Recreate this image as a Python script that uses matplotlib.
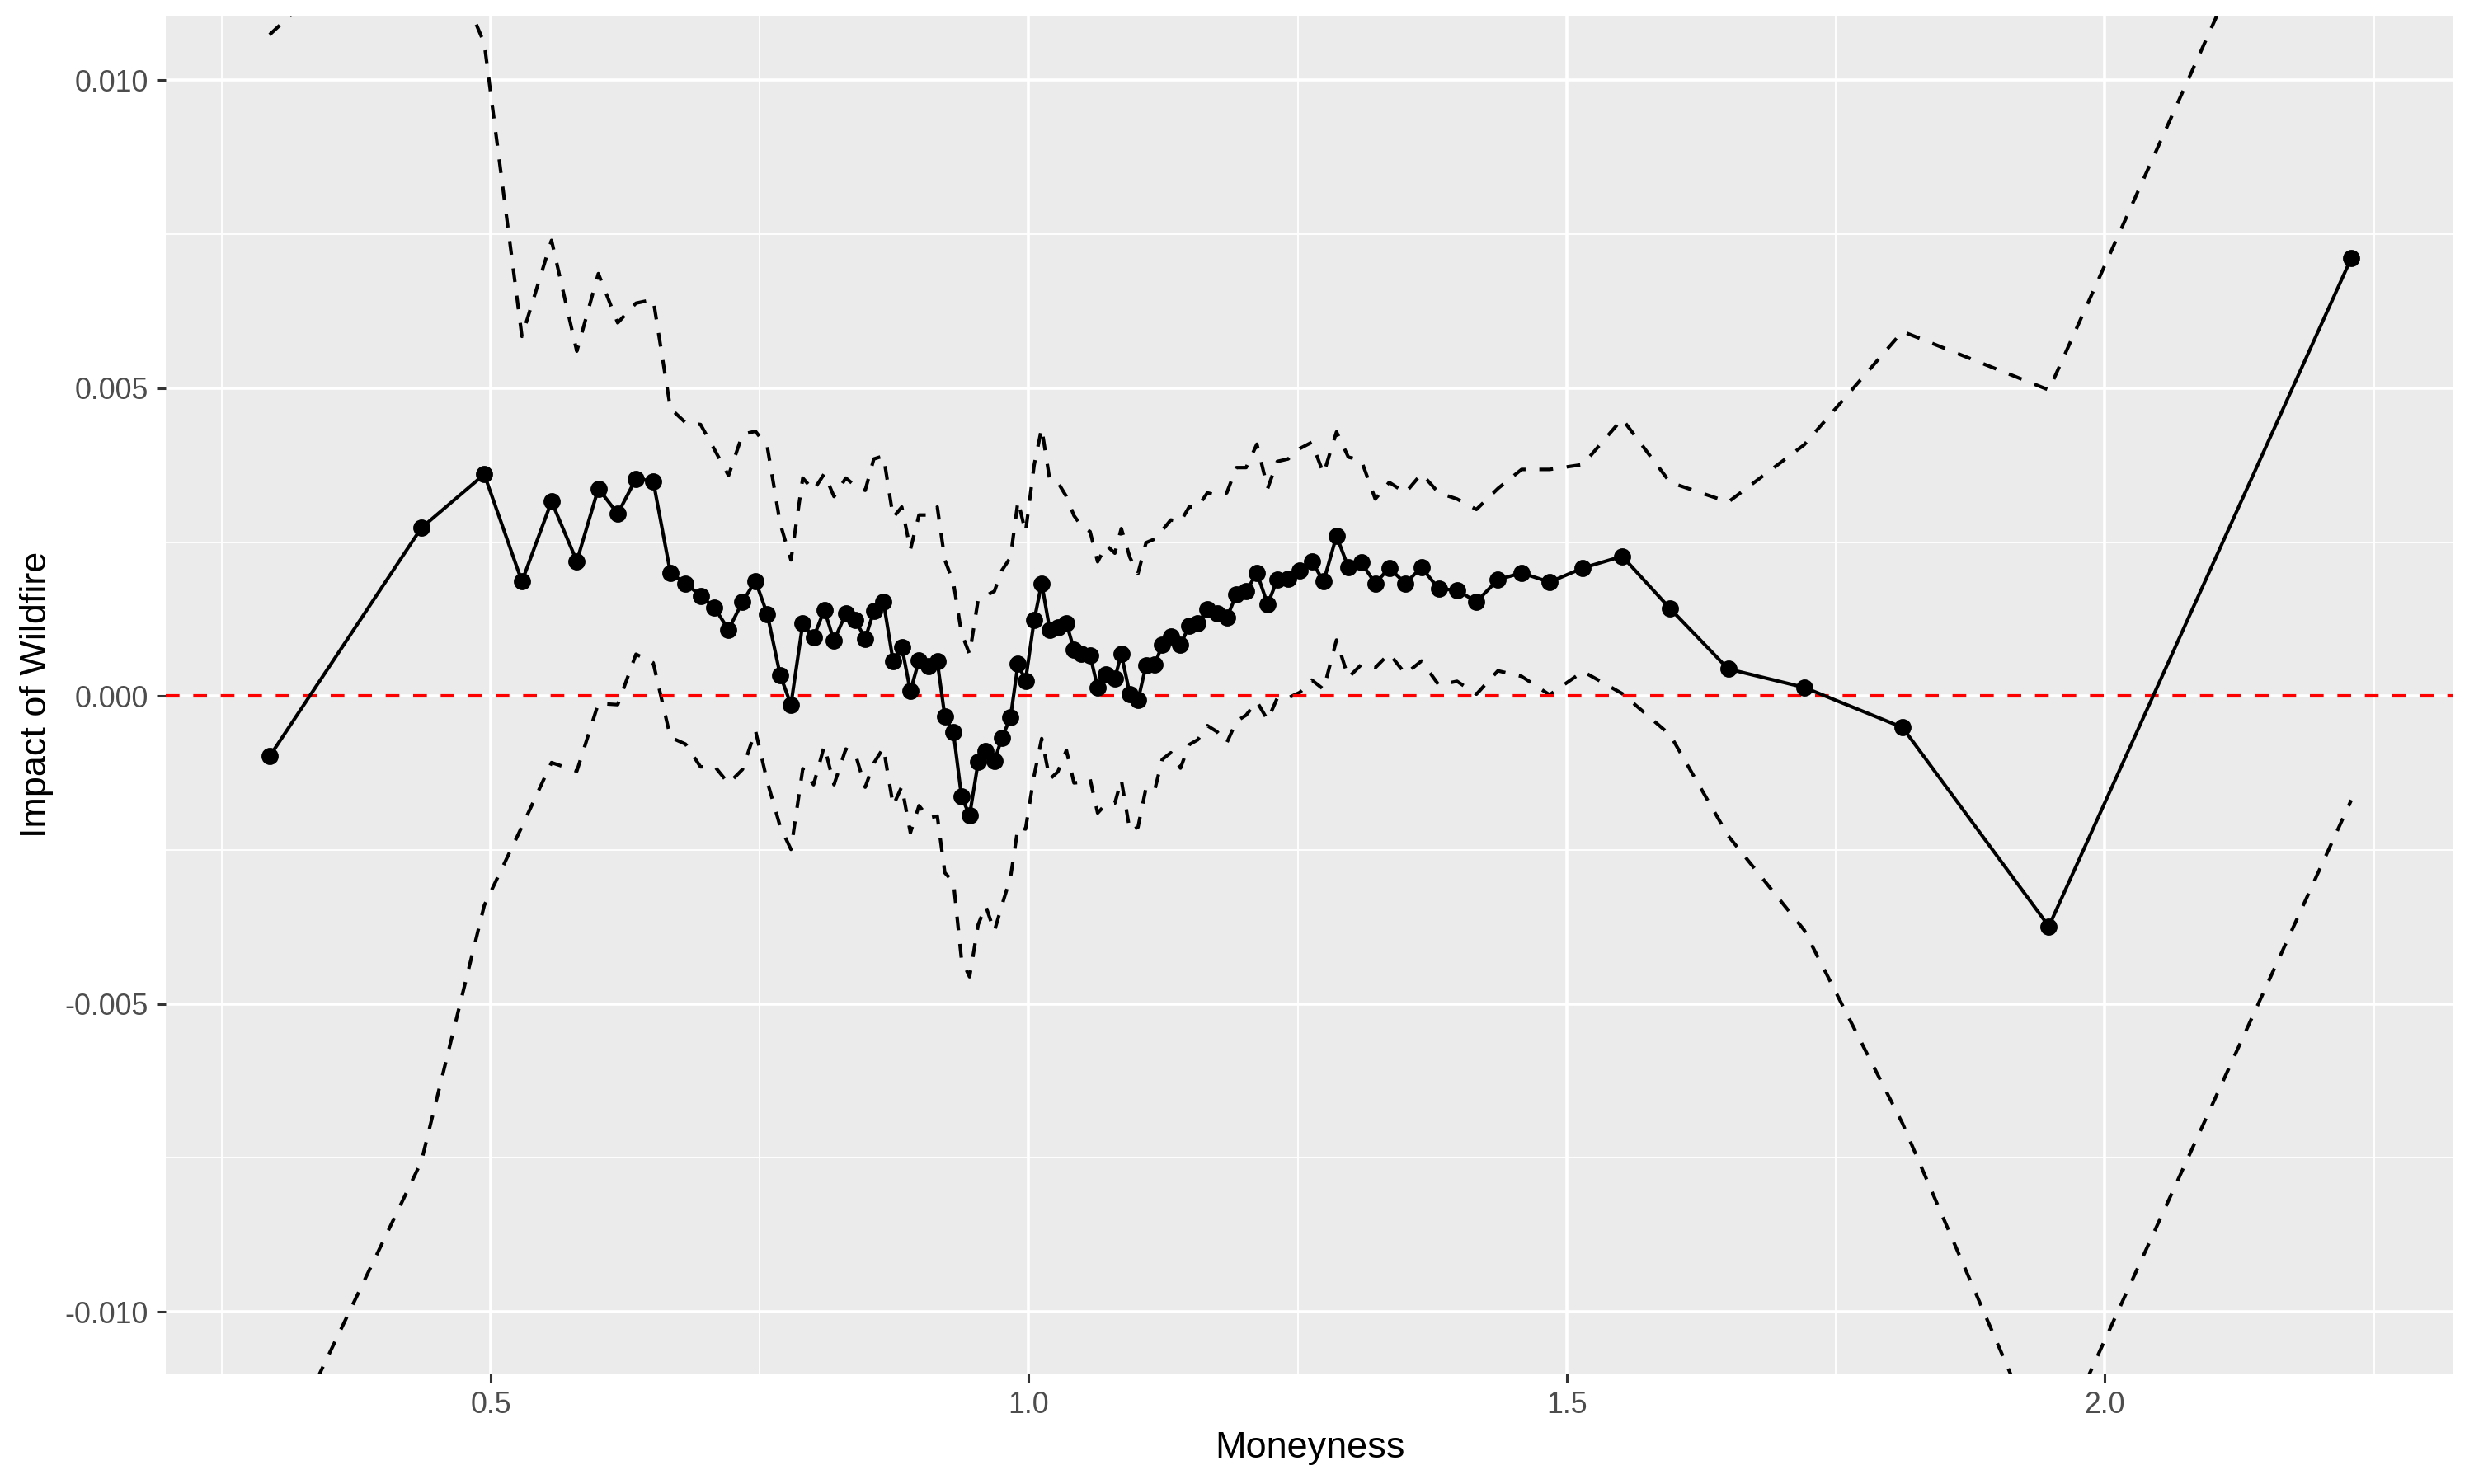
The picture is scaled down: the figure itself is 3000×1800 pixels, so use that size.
import numpy as np
import matplotlib
matplotlib.use("Agg")
import matplotlib.pyplot as plt
from matplotlib.ticker import FixedLocator

plt.rcParams['font.family'] = ['Liberation Sans', 'DejaVu Sans']
plt.rcParams['axes.unicode_minus'] = False

# moneyness bins, point estimate and confidence bounds
moneyness = [0.2945, 0.4355, 0.494, 0.529, 0.5565, 0.580, 0.600, 0.618, 0.635, 0.651,
             0.667, 0.681, 0.695, 0.708, 0.721, 0.734, 0.746, 0.757, 0.769, 0.779,
             0.790, 0.800, 0.810, 0.819, 0.830, 0.839, 0.848, 0.856, 0.865, 0.874,
             0.882, 0.890, 0.898, 0.907, 0.915, 0.922, 0.930, 0.9375, 0.945, 0.953,
             0.960, 0.968, 0.975, 0.983, 0.990, 0.997, 1.005, 1.012, 1.0195, 1.027,
             1.035, 1.042, 1.049, 1.057, 1.064, 1.072, 1.080, 1.086, 1.094, 1.1015,
             1.109, 1.117, 1.124, 1.132, 1.141, 1.149, 1.157, 1.166, 1.175, 1.184,
             1.193, 1.202, 1.212, 1.222, 1.231, 1.241, 1.252, 1.263, 1.274, 1.286,
             1.297, 1.309, 1.322, 1.335, 1.350, 1.365, 1.381, 1.398, 1.416, 1.436,
             1.458, 1.484, 1.515, 1.5515, 1.596, 1.650, 1.7206, 1.812, 1.948, 2.229]

impact = [-0.00098, 0.00273, 0.00360, 0.00186, 0.00316, 0.00219, 0.00337, 0.00296, 0.00353, 0.00349,
          0.00200, 0.00183, 0.00163, 0.00143, 0.00108, 0.00153, 0.00187, 0.00133, 0.00034, -0.00014,
          0.00118, 0.00095, 0.00140, 0.00090, 0.00134, 0.00123, 0.00093, 0.00138, 0.00153, 0.00056,
          0.00080, 0.00008, 0.00058, 0.00048, 0.00056, -0.00033, -0.00059, -0.00163, -0.00194, -0.00107,
          -0.00089, -0.00106, -0.00068, -0.00035, 0.00052, 0.00025, 0.00123, 0.00183, 0.00108, 0.00112,
          0.00118, 0.00076, 0.00068, 0.00066, 0.00014, 0.00035, 0.00029, 0.00068, 0.00003, -0.00007,
          0.00050, 0.00051, 0.00083, 0.00097, 0.00083, 0.00114, 0.00118, 0.00141, 0.00134, 0.00127,
          0.00165, 0.00170, 0.00200, 0.00149, 0.00189, 0.00191, 0.00204, 0.00219, 0.00186, 0.00260,
          0.00209, 0.00217, 0.00183, 0.00208, 0.00183, 0.00209, 0.00174, 0.00172, 0.00153, 0.00189,
          0.00200, 0.00185, 0.00208, 0.00227, 0.00142, 0.00044, 0.00014, -0.00051, -0.00374, 0.00711]

upper = [0.01074, 0.01302, 0.01060, 0.00584, 0.00740, 0.00560, 0.00686, 0.00606, 0.00638, 0.00644,
         0.00467, 0.00444, 0.00441, 0.00400, 0.00358, 0.00425, 0.00430, 0.00405, 0.00280, 0.00221,
         0.00354, 0.00334, 0.00361, 0.00324, 0.00354, 0.00341, 0.00334, 0.00385, 0.00390, 0.00290,
         0.00307, 0.00238, 0.00294, 0.00294, 0.00307, 0.00221, 0.00184, 0.00102, 0.00068, 0.00157,
         0.00163, 0.00170, 0.00204, 0.00225, 0.00317, 0.00266, 0.00375, 0.00435, 0.00351, 0.00347,
         0.00324, 0.00293, 0.00276, 0.00267, 0.00218, 0.00245, 0.00232, 0.00272, 0.00225, 0.00199,
         0.00249, 0.00255, 0.00269, 0.00286, 0.00283, 0.00307, 0.00307, 0.00330, 0.00326, 0.00330,
         0.00371, 0.00371, 0.00409, 0.00337, 0.00381, 0.00385, 0.00402, 0.00412, 0.00361, 0.00429,
         0.00388, 0.00383, 0.00320, 0.00347, 0.00330, 0.00361, 0.00330, 0.00320, 0.00303, 0.00337,
         0.00368, 0.00368, 0.00376, 0.00450, 0.00347, 0.00315, 0.00408, 0.00592, 0.00497, 0.01591]

lower = [-0.01270, -0.00756, -0.00340, -0.00212, -0.00108, -0.00122, -0.00012, -0.00014, 0.00068, 0.00054,
         -0.00067, -0.00078, -0.00115, -0.00114, -0.00142, -0.00119, -0.00056, -0.00139, -0.00212, -0.00249,
         -0.00118, -0.00144, -0.00081, -0.00144, -0.00086, -0.00095, -0.00148, -0.00109, -0.00084, -0.00178,
         -0.00147, -0.00222, -0.00178, -0.00198, -0.00195, -0.00287, -0.00302, -0.00428, -0.00456, -0.00371,
         -0.00341, -0.00382, -0.00340, -0.00295, -0.00213, -0.00216, -0.00129, -0.00069, -0.00135, -0.00123,
         -0.00088, -0.00141, -0.00140, -0.00135, -0.00190, -0.00175, -0.00174, -0.00136, -0.00219, -0.00213,
         -0.00149, -0.00153, -0.00103, -0.00092, -0.00117, -0.00079, -0.00071, -0.00048, -0.00058, -0.00076,
         -0.00041, -0.00031, -0.00009, -0.00039, -0.00003, -0.00003, 0.00006, 0.00026, 0.00011, 0.00091,
         0.00030, 0.00051, 0.00046, 0.00069, 0.00036, 0.00057, 0.00018, 0.00024, 0.00003, 0.00041,
         0.00032, 0.00002, 0.00040, 0.00004, -0.00063, -0.00227, -0.00380, -0.00694, -0.01245, -0.00169]

xticks = [0.5, 1.0, 1.5, 2.0]
xminor = [0.25, 0.75, 1.25, 1.75, 2.25]
yticks = [-0.010, -0.005, 0.000, 0.005, 0.010]
yminor = [-0.0075, -0.0025, 0.0025, 0.0075]

fig = plt.figure(figsize=(15, 9), dpi=200)
ax = fig.add_axes([0.067, 0.0745, 0.9247, 0.915])
ax.set_facecolor('#EBEBEB')
for s in ax.spines.values():
    s.set_visible(False)

# grille facon ggplot
ax.xaxis.set_major_locator(FixedLocator(xticks))
ax.xaxis.set_minor_locator(FixedLocator(xminor))
ax.yaxis.set_major_locator(FixedLocator(yticks))
ax.yaxis.set_minor_locator(FixedLocator(yminor))
ax.grid(True, which='major', color='white', linewidth=1.3)
ax.grid(True, which='minor', color='white', linewidth=0.65)
ax.set_axisbelow(True)
ax.tick_params(which='minor', length=0)
ax.tick_params(which='major', length=4, width=1.1, color='#333333',
               labelsize=12.9, labelcolor='#4D4D4D', pad=3.5)
ax.set_xticklabels(['%.1f' % v for v in xticks])
ax.set_yticklabels(['%.3f' % v for v in yticks])

ax.plot(moneyness, upper, color='black', lw=1.5, linestyle=(0, (4, 4)))
ax.plot(moneyness, lower, color='black', lw=1.5, linestyle=(0, (4, 4)))
ax.axhline(0, color='red', lw=1.5, linestyle=(0, (4, 4)))
ax.plot(moneyness, impact, color='black', lw=1.5, marker='o', markersize=6.5)

ax.set_xlim(0.198, 2.324)
ax.set_ylim(-0.0110, 0.01105)
ax.set_xlabel('Moneyness', fontsize=16.2, labelpad=5)
ax.set_ylabel('Impact of Wildfire', fontsize=16.2, labelpad=5)

fig.savefig('out.png', dpi=200)
